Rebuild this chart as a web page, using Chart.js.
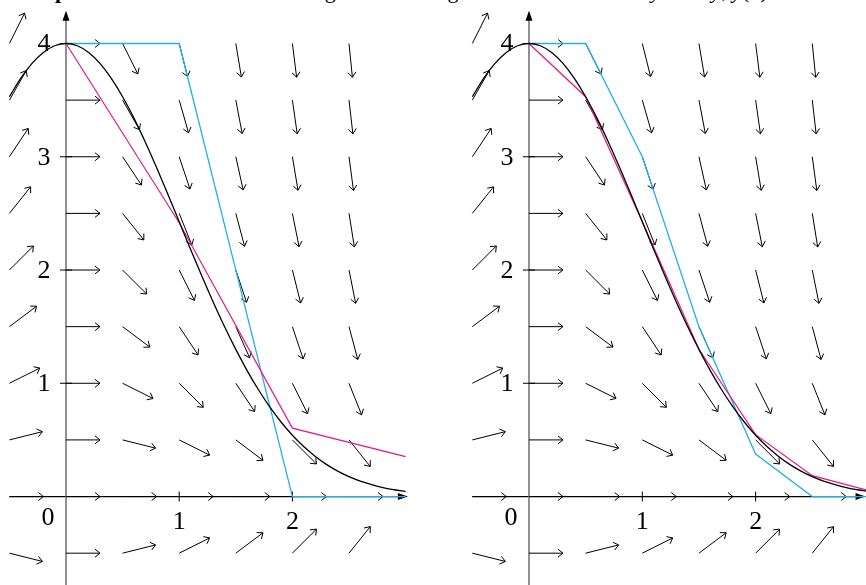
<!DOCTYPE html>
<html>
<head>
<meta charset="utf-8">
<script src="https://cdn.jsdelivr.net/npm/chart.js@4"></script>
<style>
  body { margin: 0; width: 866px; height: 585px; overflow: hidden; background: #fff; position: relative; }
  canvas { position: absolute; top: 0; }
  #left { left: 0; }
  #right { left: 433px; }
  #title { position: absolute; left: 0; top: -20px; width: 866px; font: 22px "Liberation Serif", serif; line-height: 22px; white-space: nowrap; }
</style>
</head>
<body>
<div id="title"><b>Example</b> 3. Euler’s method and Runge–Kutta using h = 1 and h = 1/2 for <i>y</i>′ = −<i>xy</i>, <i>y</i>(0) = 4</div>
<canvas id="left" width="433" height="585"></canvas>
<canvas id="right" width="433" height="585"></canvas>
<script>
// exact solution
const solX = [-0.5, -0.4, -0.3, -0.2, -0.1, 0, 0.1, 0.2, 0.3, 0.4, 0.5, 0.6, 0.7, 0.8, 0.9, 1,
  1.1, 1.2, 1.3, 1.4, 1.5, 1.6, 1.7, 1.8, 1.9, 2, 2.1, 2.2, 2.3, 2.4, 2.5, 2.6, 2.7, 2.8, 2.9, 3];
const solY = [3.530, 3.692, 3.824, 3.921, 3.980, 4, 3.980, 3.921, 3.824, 3.692, 3.530, 3.341,
  3.131, 2.905, 2.668, 2.426, 2.184, 1.947, 1.718, 1.501, 1.299, 1.112, 0.943, 0.792, 0.658,
  0.541, 0.441, 0.356, 0.284, 0.225, 0.176, 0.136, 0.105, 0.079, 0.060, 0.044];

// left panel, step 1
const eulerX1 = [0, 1, 2, 3];
const eulerY1 = [4, 4, 0, 0];
const rkX1 = [0, 1, 2, 3];
const rkY1 = [4, 2.417, 0.604, 0.352];

// right panel, step 1/2
const eulerX2 = [0, 0.5, 1, 1.5, 2, 2.5, 3];
const eulerY2 = [4, 4, 3, 1.5, 0.375, 0, 0];
const rkX2 = [0, 0.5, 1, 1.5, 2, 2.5, 3];
const rkY2 = [4, 3.530, 2.426, 1.300, 0.546, 0.184, 0.052];

// slope field grid
const fieldX = [-0.5, 0, 0.5, 1, 1.5, 2, 2.5];
const fieldY = [4, 3.5, 3, 2.5, 2, 1.5, 1, 0.5, 0, -0.5];
const fieldSlope = [
  [2, 0, -2, -4, -6, -8, -10],
  [1.75, 0, -1.75, -3.5, -5.25, -7, -8.75],
  [1.5, 0, -1.5, -3, -4.5, -6, -7.5],
  [1.25, 0, -1.25, -2.5, -3.75, -5, -6.25],
  [1, 0, -1, -2, -3, -4, -5],
  [0.75, 0, -0.75, -1.5, -2.25, -3, -3.75],
  [0.5, 0, -0.5, -1, -1.5, -2, -2.5],
  [0.25, 0, -0.25, -0.5, -0.75, -1, -1.25],
  [0, 0, 0, 0, 0, 0, 0],
  [-0.25, 0, 0.25, 0.5, 0.75, 1, 1.25]
];

const xTicks = [1, 2];
const yTicks = [1, 2, 3, 4];

const pts = (xs, ys) => xs.map((v, i) => ({x: v, y: ys[i]}));

const fieldPlugin = {
  id: 'field',
  beforeDatasetsDraw(chart, args, opts) {
    const {ctx, scales: {x, y}} = chart;
    const x0 = x.getPixelForValue(0), y0 = y.getPixelForValue(0);
    ctx.save();

    // x axis
    ctx.strokeStyle = '#000';
    ctx.lineWidth = 1.2;
    const xa = x.getPixelForValue(-0.5), xb = x.getPixelForValue(opts.xEnd);
    ctx.beginPath(); ctx.moveTo(xa, y0); ctx.lineTo(xb - 6, y0); ctx.stroke();
    ctx.fillStyle = '#000';
    ctx.beginPath(); ctx.moveTo(xb, y0); ctx.lineTo(xb - 10, y0 - 3.5); ctx.lineTo(xb - 10, y0 + 3.5); ctx.closePath(); ctx.fill();

    // y axis
    const yt = y.getPixelForValue(4.29);
    ctx.strokeStyle = '#777';
    ctx.lineWidth = 1.6;
    ctx.beginPath(); ctx.moveTo(x0, chart.height); ctx.lineTo(x0, yt + 6); ctx.stroke();
    ctx.beginPath(); ctx.moveTo(x0, yt); ctx.lineTo(x0 - 3.5, yt + 10); ctx.lineTo(x0 + 3.5, yt + 10); ctx.closePath(); ctx.fill();

    // ticks and labels
    ctx.strokeStyle = '#000';
    ctx.lineWidth = 1;
    ctx.font = '26px "Liberation Serif", serif';
    ctx.textAlign = 'center';
    ctx.textBaseline = 'middle';
    xTicks.forEach(t => {
      const px = x.getPixelForValue(t);
      ctx.beginPath(); ctx.moveTo(px, y0 - 5); ctx.lineTo(px, y0 + 5); ctx.stroke();
      ctx.fillText(String(t), px, y0 + 26);
    });
    yTicks.forEach(t => {
      const py = y.getPixelForValue(t);
      ctx.beginPath(); ctx.moveTo(x0 - 6, py); ctx.lineTo(x0 + 6, py); ctx.stroke();
      ctx.fillText(String(t), x0 - 22, py + 1);
    });
    ctx.fillText('0', x0 - 18, y0 + 22);

    // slope arrows
    ctx.lineWidth = 1;
    fieldY.forEach((yv, i) => fieldX.forEach((xv, j) => {
      const m = fieldSlope[i][j];
      const ax = x.getPixelForValue(xv), ay = y.getPixelForValue(yv);
      const dx = x.getPixelForValue(xv + 1) - ax, dy = y.getPixelForValue(yv + m) - ay;
      const len = Math.hypot(dx, dy);
      const ux = dx / len, uy = dy / len;
      const tx = ax + ux * 34, ty = ay + uy * 34;
      ctx.beginPath();
      ctx.moveTo(ax, ay); ctx.lineTo(tx, ty);
      ctx.moveTo(tx - ux * 5 - uy * 4, ty - uy * 5 + ux * 4);
      ctx.lineTo(tx, ty);
      ctx.lineTo(tx - ux * 5 + uy * 4, ty - uy * 5 - ux * 4);
      ctx.stroke();
    }));
    ctx.restore();
  }
};

function makeChart(id, xMin, xMax, xEnd, eX, eY, rX, rY) {
  return new Chart(document.getElementById(id), {
    type: 'scatter',
    data: {
      datasets: [
        {
          data: pts(solX, solY),
          showLine: true,
          borderColor: '#000',
          borderWidth: 1.3,
          pointRadius: 0,
          cubicInterpolationMode: 'monotone'
        },
        {
          data: pts(rX, rY),
          showLine: true,
          borderColor: '#e8168c',
          borderWidth: 1.2,
          pointRadius: 0
        },
        {
          data: pts(eX, eY),
          showLine: true,
          borderColor: '#22b0e6',
          borderWidth: 1.3,
          pointRadius: 0
        }
      ]
    },
    options: {
      responsive: false,
      animation: false,
      layout: { padding: 0 },
      plugins: {
        legend: { display: false },
        tooltip: { enabled: false },
        field: { xEnd: xEnd }
      },
      scales: {
        x: { type: 'linear', min: xMin, max: xMax, display: false },
        y: { type: 'linear', min: -0.781, max: 4.384, display: false }
      }
    },
    plugins: [fieldPlugin]
  });
}

makeChart('left', -0.583, 3.242, 3.02, eulerX1, eulerY1, rkX1, rkY1);
makeChart('right', -0.847, 2.974, 2.97, eulerX2, eulerY2, rkX2, rkY2);
</script>
</body>
</html>
